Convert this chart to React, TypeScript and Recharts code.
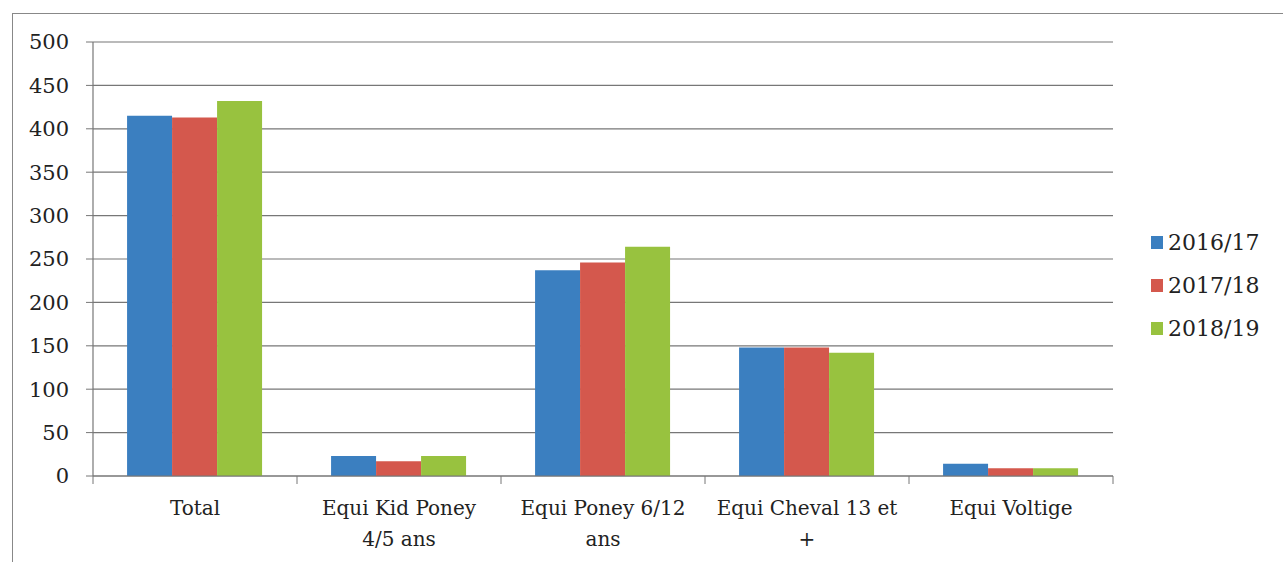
import React from 'react';
import { BarChart, Bar, XAxis, YAxis, CartesianGrid, Legend } from 'recharts';

const categories = ['Total', 'Equi Kid Poney 4/5 ans', 'Equi Poney 6/12 ans', 'Equi Cheval 13 et +', 'Equi Voltige'];
const season1617 = [415, 23, 237, 148, 14];
const season1718 = [413, 17, 246, 148, 9];
const season1819 = [432, 23, 264, 142, 9];
const yTicks = [0, 50, 100, 150, 200, 250, 300, 350, 400, 450, 500];

const data = categories.map((name, i) => ({
  name,
  '2016/17': season1617[i],
  '2017/18': season1718[i],
  '2018/19': season1819[i],
}));

const FONT = '"DejaVu Serif", serif';

// greedy word wrap, like Excel does for long category names
const wrap = (s: string, max: number) => {
  const lines: string[] = [];
  let cur = '';
  s.split(' ').forEach((w) => {
    const next = cur ? cur + ' ' + w : w;
    if (next.length > max && cur) {
      lines.push(cur);
      cur = w;
    } else {
      cur = next;
    }
  });
  if (cur) lines.push(cur);
  return lines;
};

// label + tick marks at the category boundaries (Excel style)
const CategoryTick = (props: any) => {
  const { x, y, payload, index, visibleTicksCount } = props;
  const half = payload.offset || 0;
  const lines = wrap(String(payload.value), 17);
  const isLast = index === visibleTicksCount - 1;
  return (
    <g>
      <line x1={x - half} x2={x - half} y1={y - 8} y2={y} stroke="#777" />
      {isLast && <line x1={x + half} x2={x + half} y1={y - 8} y2={y} stroke="#777" />}
      <text x={x} y={y} textAnchor="middle" fontFamily={FONT} fontSize={20} fill="#222">
        {lines.map((l, i) => (
          <tspan key={i} x={x} dy={31}>
            {l}
          </tspan>
        ))}
      </text>
    </g>
  );
};

const LegendBox = (props: any) => {
  const { payload } = props;
  return (
    <div style={{ fontFamily: FONT, fontSize: 22, color: '#222' }}>
      {payload.map((p: any) => (
        <div key={p.value} style={{ display: 'flex', alignItems: 'center', height: 43 }}>
          <span style={{ width: 12, height: 13, background: p.color, display: 'inline-block', marginRight: 5 }} />
          {p.value}
        </div>
      ))}
    </div>
  );
};

export default function App() {
  return (
    <div
      style={{
        position: 'absolute',
        left: 12,
        top: 13,
        width: 1300,
        height: 580,
        borderTop: '1px solid #888',
        borderLeft: '1px solid #888',
        background: '#fff',
      }}
    >
      <BarChart
        width={1290}
        height={560}
        data={data}
        margin={{ top: 28, right: 50, left: 0, bottom: 38 }}
        barCategoryGap="16.7%"
        barGap={0}
      >
        <CartesianGrid vertical={false} stroke="#777" strokeWidth={1.2} />
        <XAxis
          dataKey="name"
          interval={0}
          tickLine={false}
          axisLine={{ stroke: '#777', strokeWidth: 1.2 }}
          tick={<CategoryTick />}
          height={60}
        />
        <YAxis
          domain={[0, 500]}
          ticks={yTicks}
          width={80}
          tickSize={7}
          tickMargin={17}
          axisLine={{ stroke: '#777', strokeWidth: 1.2 }}
          tickLine={{ stroke: '#777' }}
          tick={{ fontFamily: FONT, fontSize: 21, fill: '#222' }}
        />
        <Legend
          layout="vertical"
          verticalAlign="top"
          align="right"
          content={<LegendBox />}
          wrapperStyle={{ left: 1138, top: 207, width: 140 }}
        />
        <Bar dataKey="2016/17" fill="#3b7fc0" isAnimationActive={false} />
        <Bar dataKey="2017/18" fill="#d4584d" isAnimationActive={false} />
        <Bar dataKey="2018/19" fill="#98c23f" isAnimationActive={false} />
      </BarChart>
    </div>
  );
}
